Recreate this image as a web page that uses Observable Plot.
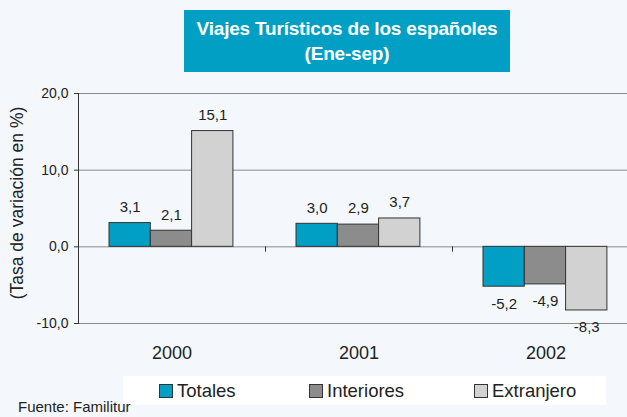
<!DOCTYPE html>
<html><head><meta charset="utf-8">
<script src="https://cdn.jsdelivr.net/npm/d3@7"></script>
<script src="https://cdn.jsdelivr.net/npm/@observablehq/plot@0.6"></script>
<style>
body{margin:0;background:#f4f8fc;font-family:"Liberation Sans",Arial,sans-serif;}
#wrap{position:relative;width:627px;height:417px;overflow:hidden;background:#f4f8fc}
#chart{position:absolute;left:0;top:0}
#title{position:absolute;left:184px;top:10px;width:326px;height:62px;background:#009fc3;color:#fff;font-weight:bold;font-size:19px;text-align:center;line-height:25px;padding-top:6px;box-sizing:border-box;letter-spacing:-0.2px}
#ylab{position:absolute;left:17px;top:203px;transform:translate(-50%,-50%) rotate(-90deg);white-space:nowrap;font-size:17.5px;color:#222}
#legend{position:absolute;left:123px;top:376px;width:483px;height:29px;background:#fff}
.item{position:absolute;top:4px;font-size:18.5px;color:#222;line-height:22px;white-space:nowrap}
.sw{display:inline-block;width:12px;height:12px;border:1px solid #333;margin-right:4px;vertical-align:-1px}
#src{position:absolute;left:18px;top:399px;font-size:15px;line-height:16px;color:#222}
</style></head>
<body>
<div id="wrap">
  <div id="chart"></div>
  <div id="title">Viajes Turísticos de los españoles<br>(Ene-sep)</div>
  <div id="ylab">(Tasa de variación en %)</div>
  <div id="legend"></div>
  <div id="src">Fuente: Familitur</div>
</div>
<script>
const years = ["2000", "2001", "2002"];
const series = ["Totales", "Interiores", "Extranjero"];
const totales = [3.1, 3.0, -5.2];
const interiores = [2.1, 2.9, -4.9];
const extranjero = [15.1, 3.7, -8.3];
const yTicks = [-10, 0, 10, 20];
const colors = ["#009fc3", "#8c8c8c", "#d2d2d2"];

const valuesBySeries = [totales, interiores, extranjero];
const rows = series.flatMap((s, j) => years.map((yr, i) => ({year: yr, serie: s, value: valuesBySeries[j][i]})));
const fmt = v => v.toFixed(1).replace(".", ",");

const band = 187, barW = 41.3, lead = 31;
const marks = [];
marks.push(Plot.gridY(yTicks, {stroke: "#8a8a8a", strokeOpacity: 1, strokeWidth: 1}));
marks.push(Plot.axisY(yTicks, {tickSize: 4, tickPadding: 6, tickFormat: fmt, fontSize: 14, fill: "#222", stroke: "#333", label: null}));
marks.push(Plot.frame({anchor: "left", stroke: "#333"}));
marks.push(Plot.ruleX(years.slice(1), {x: d => d, y1: 0, y2: -0.7, dx: -band / 2, stroke: "#333"}));
series.forEach((s, j) => {
  const data = rows.filter(d => d.serie === s);
  const left = lead + barW * j, right = band - lead - barW * (j + 1);
  marks.push(Plot.barY(data, {x: "year", y1: 0, y2: "value", fill: colors[j], stroke: "#333", strokeWidth: 1, insetLeft: left, insetRight: right}));
  const dx = left + barW / 2 - band / 2;
  marks.push(Plot.text(data.filter(d => d.value >= 0), {x: "year", y: "value", text: d => fmt(d.value), dx, dy: -16, fontSize: 15, fill: "#222"}));
  marks.push(Plot.text(data.filter(d => d.value < 0), {x: "year", y: "value", text: d => fmt(d.value), dx, dy: 17, fontSize: 15, fill: "#222"}));
});
marks.push(Plot.axisX({tickSize: 0, tickPadding: 23, fontSize: 18, fill: "#222", label: null}));

const chart = Plot.plot({
  width: 627, height: 417,
  marginTop: 93, marginBottom: 94, marginLeft: 78, marginRight: 0,
  style: {fontFamily: "Liberation Sans, Arial, sans-serif", background: "transparent", color: "#222", overflow: "visible"},
  x: {type: "band", domain: years, range: [78, 639], padding: 0},
  y: {domain: [-10, 20], range: [323, 93]},
  marks
});
document.getElementById("chart").appendChild(chart);

const legend = document.getElementById("legend");
const legendX = [36, 186, 351];
series.forEach((s, j) => {
  const it = document.createElement("div");
  it.className = "item";
  it.style.left = legendX[j] + "px";
  const sw = document.createElement("span");
  sw.className = "sw";
  sw.style.background = colors[j];
  it.appendChild(sw);
  it.appendChild(document.createTextNode(s));
  legend.appendChild(it);
});
</script>
</body></html>
